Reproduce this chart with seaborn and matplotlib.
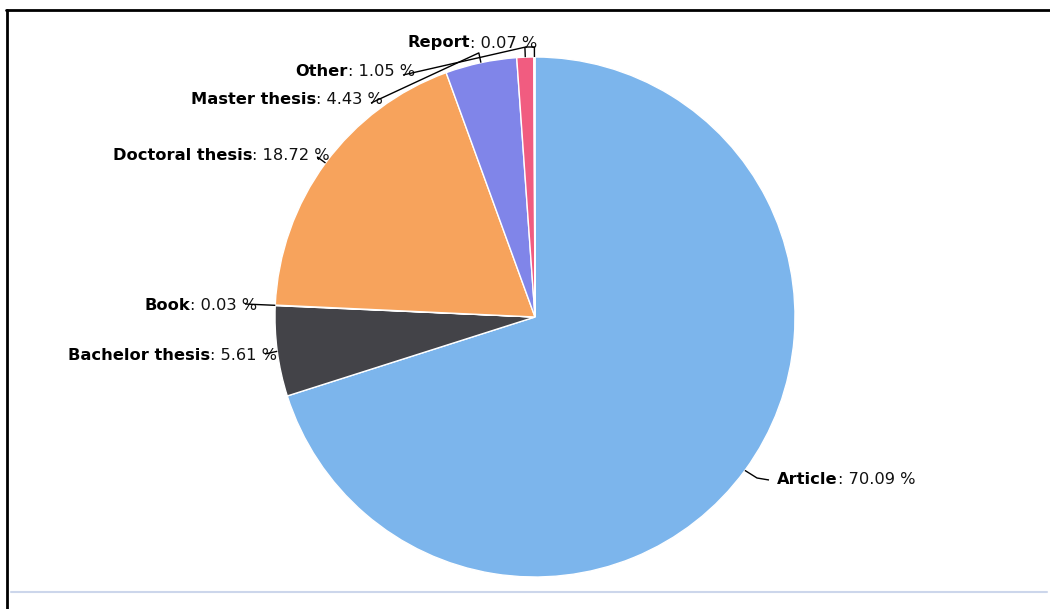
import numpy as np
import matplotlib
matplotlib.use("Agg")
import matplotlib.pyplot as plt
import seaborn as sns

# ---- data ----
names = ["Article", "Bachelor thesis", "Book", "Doctoral thesis",
         "Master thesis", "Other", "Report"]
values = [70.09, 5.61, 0.03, 18.72, 4.43, 1.05, 0.07]
colors = ["#7cb5ec", "#434348", "#90ed7d", "#f7a35c", "#8085e9", "#f15c80", "#e4d354"]

# label layout in image pixels: (anchor x, centre y, side)
label_layout = [(777, 480, "right"), (277, 355, "left"), (257, 305, "left"),
                (330, 155, "left"), (383, 99, "left"), (415, 71, "left"),
                (537, 43, "left")]

W, H = 1050, 609
sns.set_theme(style="white")
plt.rcParams["font.family"] = ["DejaVu Sans"]
palette = sns.color_palette(colors)

fig = plt.figure(figsize=(W / 100, H / 100), dpi=100)
ax = fig.add_axes([0, 0, 1, 1])

cx, cy, R = 535, H - 317, 260
ax.pie(values, colors=palette, startangle=90, counterclock=False,
       center=(cx, cy), radius=R,
       wedgeprops=dict(edgecolor="white", linewidth=1))
ax.set_xlim(0, W)
ax.set_ylim(0, H)
ax.set_aspect("auto")
ax.axis("off")

fs = 11.7
cum = np.cumsum([0] + values[:-1])
for i, (name, v) in enumerate(zip(names, values)):
    mid = (cum[i] + v / 2) / sum(values) * 2 * np.pi
    ex, ey = cx + R * np.sin(mid), cy + R * np.cos(mid)
    lx, ly_img, side = label_layout[i]
    ly = H - ly_img
    val = f": {v:.2f} %"
    if side == "right":
        b = ax.text(lx, ly, name, fontsize=fs, fontweight="bold", ha="left",
                    va="center", color="#000000")
        ax.annotate(val, xy=(1, 0.5), xycoords=b, fontsize=fs, ha="left",
                    va="center", color="#111111")
        sx = lx - 8
        px = [sx, sx - 12, ex]
        py = [ly, ly + 2, ey]
    else:
        t = ax.text(lx, ly, val, fontsize=fs, ha="right", va="center",
                    color="#111111")
        ax.annotate(name, xy=(0, 0.5), xycoords=t, fontsize=fs,
                    fontweight="bold", ha="right", va="center", color="#000000")
        sx = lx - 12
        elx, ely = cx + (R + 10) * np.sin(mid), cy + (R + 10) * np.cos(mid)
        if ex < cx - R * 0.9:
            px = [sx, ex]
            py = [ly + 1, ey]
        else:
            px = [sx, elx, ex]
            py = [ly - 4, ely, ey]
    ax.plot(px, py, color="#000000", lw=1, solid_capstyle="butt", zorder=5)

# frame lines and bottom rule
ax.plot([6, W], [H - 9.5, H - 9.5], color="black", lw=2, zorder=6)
ax.plot([6.5, 6.5], [0, H - 9.5], color="black", lw=2, zorder=6)
ax.plot([11, 1047], [H - 592, H - 592], color="#ccd6eb", lw=1.5, zorder=6)

fig.savefig("out.png", dpi=100)
